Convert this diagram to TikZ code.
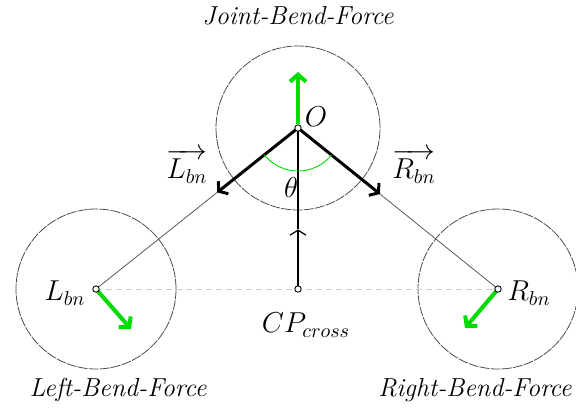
\documentclass[tikz,border=0pt]{standalone}
\usepackage{amsmath,amssymb}
\usetikzlibrary{arrows.meta,positioning,calc}
\definecolor{forcegreen}{RGB}{0,220,0}
\tikzset{
  circln/.style={dash pattern=on 5pt off 0.6pt, line width=0.4pt, gray!60!black},
  linkln/.style={line width=0.4pt, gray!70!black},
  baseln/.style={dash pattern=on 3pt off 2pt, line width=0.5pt, gray!40},
  armln/.style={-{Straight Barb[length=3pt,width=8pt]}, line width=1.5pt},
  forceln/.style={-{Straight Barb[length=3.5pt,width=8pt]}, line width=2pt, forcegreen},
  jointpt/.style={circle, draw=black, fill=white, inner sep=0pt, minimum size=3.2pt, line width=0.45pt},
  lbl/.style={font=\Large, inner sep=1pt},
  titlelbl/.style={font=\fontsize{13}{15}\selectfont\itshape, inner sep=1pt},
}

\begin{document}
\begin{tikzpicture}[x=0.5pt, y=-0.5pt]
        \useasboundingbox (0,0) rectangle (576,408);
        % joints: crossing point, left, right and the joint itself
        \coordinate (O) at (298,128);
        \coordinate (L) at (96,289);
        \coordinate (R) at (498,289);
        \coordinate (CP) at (298,289);
        % bend circles around each joint
        \draw[circln] (O) circle[radius=41pt];
        \draw[circln] (L) circle[radius=40pt];
        \draw[circln] (R) circle[radius=40pt];
        \draw[baseln] (L) -- (R);
        % links and the two bend arms
        \draw[linkln] (L) -- (O) -- (R);
        \coordinate (la) at ($(O)!0.40!(L)$);
        \coordinate (ra) at ($(O)!0.41!(R)$);
        \draw[armln] (O) -- (la);
        \draw[armln] (O) -- (ra);
        % from the crossing point up to the joint
        \coordinate (mid) at ($(CP)!0.37!(O)$);
        \draw[-{Straight Barb[length=2.5pt,width=8pt]}, line width=0.6pt] (CP) -- (mid);
        \draw[line width=0.6pt] (mid) -- (O);
        % angle between the arms
        \draw[forcegreen, line width=0.45pt, domain=38.8:141.4, samples=40]
          plot ({298+43*cos(\x)}, {128+43*sin(\x)});
        % bend forces
        \coordinate (jf) at (298,72);
        \coordinate (lf) at (131,329);
        \coordinate (rf) at (465,328);
        \draw[forceln] ($(O)+(0,-4)$) -- (jf);
        \draw[forceln] (L) -- (lf);
        \draw[forceln] (R) -- (rf);
        \node[jointpt] (nO) at (O) {};
        \node[jointpt] (nL) at (L) {};
        \node[jointpt] (nR) at (R) {};
        \node[jointpt] (nCP) at (CP) {};
        % labels
        \node[lbl] (lblO) at (316,117) {$O$};
        \node[lbl] (lblTheta) at (291,187) {$\theta$};
        \node[lbl] (vecL) at (187,166) {$\overrightarrow{L_{bn}}$};
        \node[lbl] (vecR) at (414,166) {$\overrightarrow{R_{bn}}$};
        \node[lbl] (lblL) at (65,293) {$L_{bn}$};
        \node[lbl] (lblR) at (529,293) {$R_{bn}$};
        \node[lbl] (lblCP) at (306,325) {$CP_{cross}$};
        \node[titlelbl] (titleJ) at (298,16) {Joint-Bend-Force};
        \node[titlelbl] (titleL) at (118,390) {Left-Bend-Force};
        \node[titlelbl] (titleR) at (475,390) {Right-Bend-Force};
      \end{tikzpicture}
\end{document}
